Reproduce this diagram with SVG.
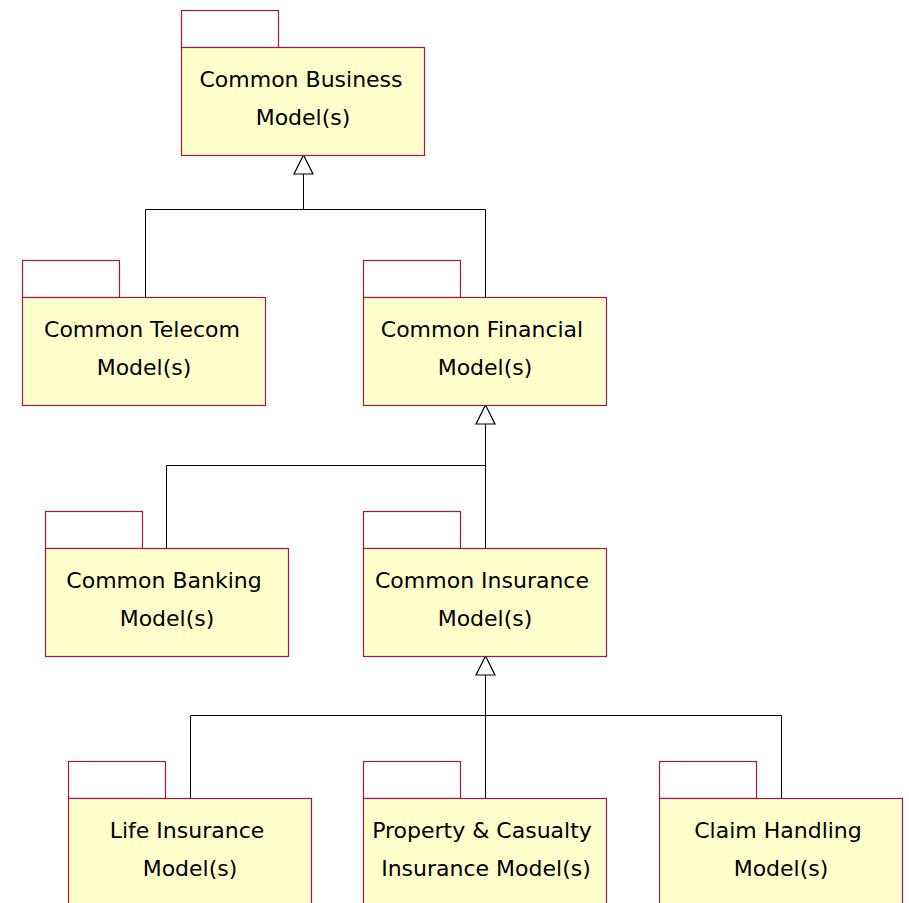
<svg xmlns="http://www.w3.org/2000/svg" width="909" height="903" viewBox="0 0 909 903">
  <defs>
    <style>
      .tab { fill: #ffffff; stroke: #a3174b; stroke-width: 1.2; }
      .box { fill: #ffffcc; stroke: #a3174b; stroke-width: 1.2; }
      .lbl { font-family: "DejaVu Sans", Verdana, sans-serif; font-size: 22px; fill: #000000; text-anchor: middle; }
      .wire { fill: none; stroke: #000000; stroke-width: 1; }
      .head { fill: #ffffff; stroke: #000000; stroke-width: 1.2; }
    </style>
  </defs>
  <rect width="909" height="903" fill="#ffffff"/>

  <!-- generalization connectors -->
  <g id="connectors">
    <path class="wire" d="M303.5 174 V209.5 M145.5 297 V209.5 H485.5 V297"/>
    <polygon class="head" points="303.5,155 294,174 313,174"/>
    <path class="wire" d="M485.5 424 V548 M166.5 548 V465.5 H485.5"/>
    <polygon class="head" points="485.5,405 476,424 495,424"/>
    <path class="wire" d="M485.5 675 V798 M190.5 798 V715.5 H781.5 V798"/>
    <polygon class="head" points="485.5,656 476,675 495,675"/>
  </g>

  <g id="common-business">
    <rect class="tab" x="181.5" y="10.5" width="97" height="37"/>
    <rect class="box" x="181.5" y="47.5" width="243" height="108"/>
    <text class="lbl" x="301" y="87">Common Business</text>
    <text class="lbl" x="303" y="125">Model(s)</text>
  </g>

  <g id="common-telecom">
    <rect class="tab" x="22.5" y="260.5" width="97" height="37"/>
    <rect class="box" x="22.5" y="297.5" width="243" height="108"/>
    <text class="lbl" x="142" y="337">Common Telecom</text>
    <text class="lbl" x="144" y="375">Model(s)</text>
  </g>

  <g id="common-financial">
    <rect class="tab" x="363.5" y="260.5" width="97" height="37"/>
    <rect class="box" x="363.5" y="297.5" width="243" height="108"/>
    <text class="lbl" x="482" y="337">Common Financial</text>
    <text class="lbl" x="485" y="375">Model(s)</text>
  </g>

  <g id="common-banking">
    <rect class="tab" x="45.5" y="511.5" width="97" height="37"/>
    <rect class="box" x="45.5" y="548.5" width="243" height="108"/>
    <text class="lbl" x="164" y="588">Common Banking</text>
    <text class="lbl" x="167" y="626">Model(s)</text>
  </g>

  <g id="common-insurance">
    <rect class="tab" x="363.5" y="511.5" width="97" height="37"/>
    <rect class="box" x="363.5" y="548.5" width="243" height="108"/>
    <text class="lbl" x="482" y="588">Common Insurance</text>
    <text class="lbl" x="485" y="626">Model(s)</text>
  </g>

  <g id="life-insurance">
    <rect class="tab" x="68.5" y="761.5" width="97" height="37"/>
    <rect class="box" x="68.5" y="798.5" width="243" height="108"/>
    <text class="lbl" x="187" y="838">Life Insurance</text>
    <text class="lbl" x="190" y="876">Model(s)</text>
  </g>

  <g id="property-casualty">
    <rect class="tab" x="363.5" y="761.5" width="97" height="37"/>
    <rect class="box" x="363.5" y="798.5" width="243" height="108"/>
    <text class="lbl" x="482" y="838">Property &amp; Casualty</text>
    <text class="lbl" x="486" y="876">Insurance Model(s)</text>
  </g>

  <g id="claim-handling">
    <rect class="tab" x="659.5" y="761.5" width="97" height="37"/>
    <rect class="box" x="659.5" y="798.5" width="243" height="108"/>
    <text class="lbl" x="778" y="838">Claim Handling</text>
    <text class="lbl" x="781" y="876">Model(s)</text>
  </g>
</svg>
